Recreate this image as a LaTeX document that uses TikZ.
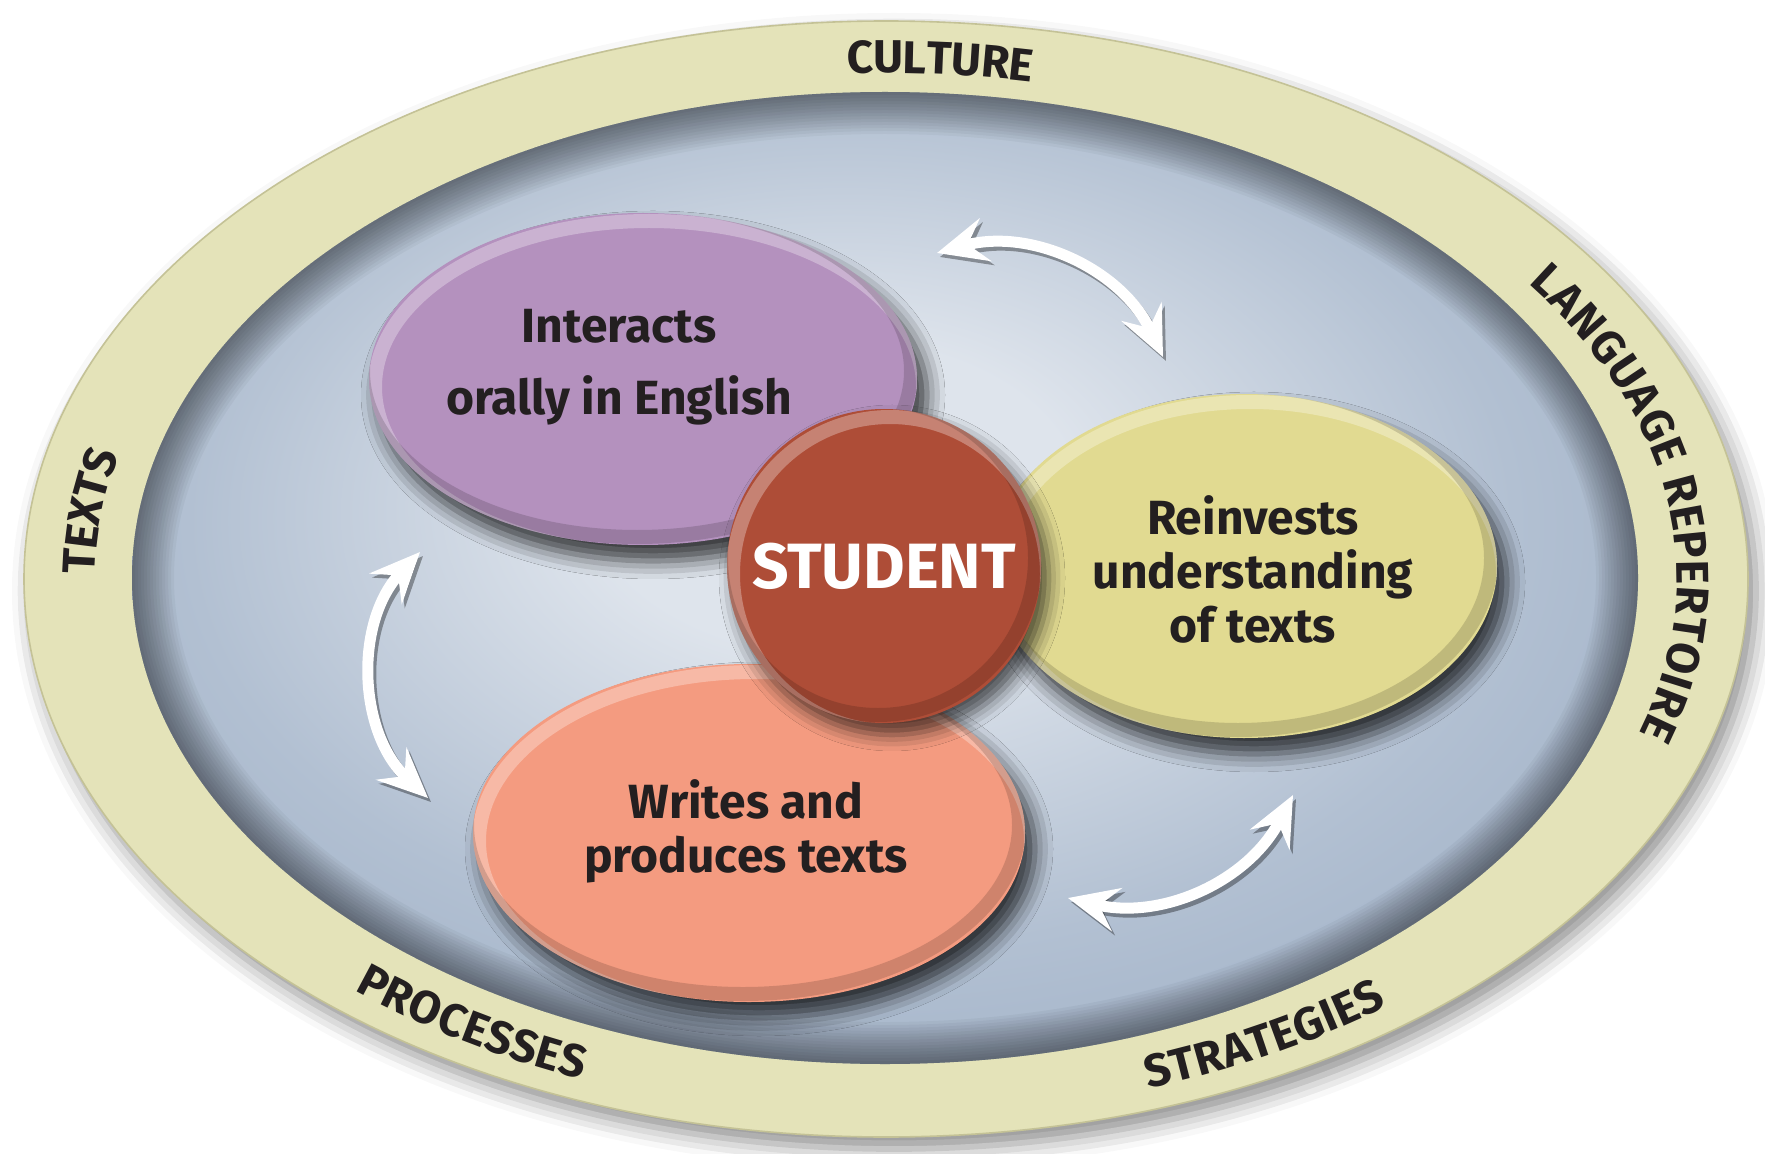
\documentclass[tikz,border=0pt]{standalone}
\usepackage{fontspec}
\setmainfont{Fira Sans}
\usetikzlibrary{shapes.geometric,arrows.meta,decorations.text,shadows.blur}
\definecolor{ce4e3b9}{RGB}{228,227,185}
\definecolor{cc4c296}{RGB}{196,194,150}
\definecolor{cdee4ec}{RGB}{222,228,236}
\definecolor{cb2c0d2}{RGB}{178,192,210}
\definecolor{c98aac2}{RGB}{152,170,194}
\definecolor{c91a3bc}{RGB}{145,163,188}
\definecolor{cb491be}{RGB}{180,145,190}
\definecolor{ce1da91}{RGB}{225,218,145}
\definecolor{cf49b80}{RGB}{244,155,128}
\definecolor{cae4d37}{RGB}{174,77,55}
\definecolor{c231f20}{RGB}{35,31,32}
\pgfdeclareradialshading{bluedisc}{\pgfpoint{-2bp}{5bp}}{color(0bp)=(cdee4ec);
  color(8bp)=(cdee4ec); color(22bp)=(cb2c0d2); color(36bp)=(c98aac2);
  color(50bp)=(c91a3bc)}
\newcommand\ringtext{\fontsize{23}{23}\selectfont\bfseries}
\newcommand\boxtext{\fontsize{24}{27}\selectfont\bfseries}

\begin{document}
\begin{tikzpicture}[x=0.5pt, y=0.5pt, inner sep=0pt, outer sep=0pt,
  ringlabel/.style={decorate, decoration={text along path, text={|\ringtext|#1},
    text align=center, raise=-8pt, text color=c231f20}},
  bubble/.style={ellipse, blur shadow={shadow xshift=5pt, shadow yshift=-8pt,
    shadow blur radius=9pt, shadow opacity=75}},
  bevel/.style 2 args={path picture={
    \draw[white, opacity=0.3, line width=7pt]
      ([shift={(3pt,-4pt)}]path picture bounding box.center)
      ellipse [x radius=#1, y radius=#2];
    \draw[black, opacity=0.15, line width=7pt]
      ([shift={(-3pt,4pt)}]path picture bounding box.center)
      ellipse [x radius=#1, y radius=#2];}},
  bubbletext/.style={align=center, text=c231f20, font=\boxtext},
  swapline/.style={draw=white, line width=5.5pt, <->,
    >={Stealth[length=25pt, width=22pt, inset=9pt]}},
  swapshadow/.style={swapline, draw=black, opacity=0.35,
    transform canvas={xshift=1.5pt, yshift=-2pt}}]
  \useasboundingbox (0,0) rectangle (1765,1153);

  % ring and disc
  \path[fill=ce4e3b9, draw=cc4c296, line width=0.8pt,
    blur shadow={shadow xshift=4pt, shadow yshift=-6pt,
    shadow blur radius=10pt, shadow opacity=45}]
    (886,574) ellipse [x radius=862, y radius=558];
  \path[shading=bluedisc] (885,575) ellipse [x radius=753, y radius=486];
  \begin{scope}
    \clip (885,575) ellipse [x radius=753, y radius=486];
    \foreach \w in {3,6,...,42}
      \draw[line width=\w pt, black, opacity=0.035]
        (885,575) ellipse [x radius=753, y radius=486];
  \end{scope}

  % words on the ring
  \path[ringlabel=CULTURE] (886,574) ++(106:807 and 522)
    arc[start angle=106, end angle=66, x radius=807, y radius=522];
  \path[ringlabel=LANGUAGE REPERTOIRE, decoration={text align=fit to path}]
    (886,574) ++(36:807 and 522)
    arc[start angle=36, end angle=-18, x radius=807, y radius=522];
  \path[ringlabel=TEXTS] (886,574) ++(193:807 and 522)
    arc[start angle=193, end angle=153, x radius=807, y radius=522];
  \path[ringlabel=PROCESSES] (886,574) ++(218:807 and 522)
    arc[start angle=218, end angle=258, x radius=807, y radius=522];
  \path[ringlabel=STRATEGIES] (886,574) ++(279:807 and 522)
    arc[start angle=279, end angle=319, x radius=807, y radius=522];

  % the three competencies
  \node[bubble, fill=cb491be, bevel={137pt}{83pt}, minimum width=274pt,
    minimum height=166pt] (ellipse-interacts) at (643,774) {};
  \node[bubble, fill=ce1da91, bevel={126.5pt}{86pt}, minimum width=253pt,
    minimum height=172pt] (ellipse-reinvests) at (1244,587) {};
  \node[bubble, fill=cf49b80, bevel={138pt}{84.5pt}, minimum width=276pt,
    minimum height=169pt] (ellipse-writes) at (749,320) {};
  \node[circle, fill=cae4d37, bevel={78.5pt}{78.5pt}, minimum size=157pt,
    text=white, font=\fontsize{32}{32}\selectfont\bfseries,
    blur shadow={shadow xshift=4pt, shadow yshift=-6pt, shadow blur radius=8pt,
    shadow opacity=65}] (circle-student) at (884,587) {STUDENT};

  \node[bubbletext, font=\fontsize{24}{36}\selectfont\bfseries]
    (text-interacts) at (619,786) {Interacts\\orally in English};
  \node[bubbletext] (text-reinvests) at (1253,584)
    {Reinvests\\understanding\\of texts};
  \node[bubbletext] (text-writes) at (746,322) {Writes and\\produces texts};

  % curved arrows
  \coordinate (arrow-top-a) at (937,900);
  \coordinate (arrow-top-b) at (1163,796);
  \coordinate (arrow-left-a) at (420,601);
  \coordinate (arrow-left-b) at (428,355);
  \coordinate (arrow-bottom-a) at (1068,255);
  \coordinate (arrow-bottom-b) at (1293,358);
  \draw[swapshadow] (arrow-top-a) to[bend left=40] (arrow-top-b);
  \draw[swapshadow] (arrow-left-a) to[bend right=45] (arrow-left-b);
  \draw[swapshadow] (arrow-bottom-a) to[bend right=38] (arrow-bottom-b);
  \draw[swapline] (arrow-top-a) to[bend left=40] (arrow-top-b);
  \draw[swapline] (arrow-left-a) to[bend right=45] (arrow-left-b);
  \draw[swapline] (arrow-bottom-a) to[bend right=38] (arrow-bottom-b);
\end{tikzpicture}
\end{document}
